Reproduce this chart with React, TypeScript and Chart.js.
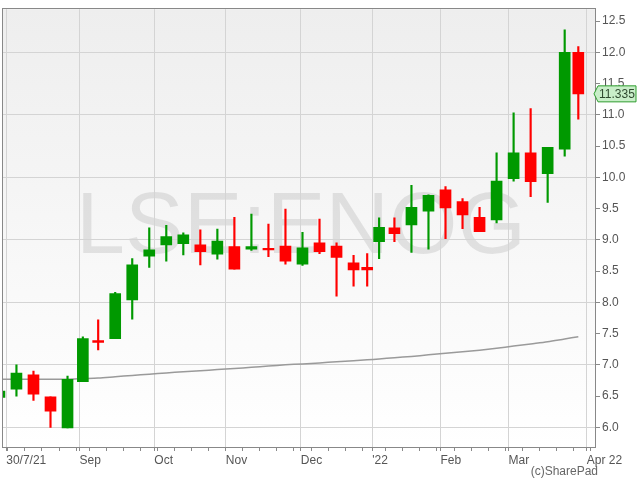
import React, { useEffect, useRef } from 'react';
import { Chart, registerables } from 'chart.js';

Chart.register(...registerables);

// ---- Data (weekly candles, x in trading-day index; 0 = 30 Jul 2021) ----
const weekStart = [-4, 1, 6, 11, 16, 21, 25, 30, 35, 40, 45, 50, 55, 60, 65, 70, 75, 80, 85, 90, 95, 100, 105, 108, 112, 117, 122, 127, 132, 137, 142, 147, 152, 157, 162, 167];
const lastTradingDay = 169;
const axisWeekStarts = [1, 6, 11, 16, 21, 25, 30, 35, 40, 45, 50, 55, 60, 65, 70, 75, 80, 85, 90, 95, 100, 105, 108, 112, 117, 122, 127, 132, 137, 142, 147, 152, 157, 162, 167, 172];

const openP = [6.48, 6.61, 6.84, 6.49, 5.99, 6.73, 7.39, 7.42, 8.04, 8.74, 8.92, 8.94, 8.92, 8.77, 8.89, 8.85, 8.86, 8.90, 8.61, 8.95, 8.90, 8.63, 8.56, 8.97, 9.19, 9.24, 9.46, 9.80, 9.61, 9.36, 9.32, 9.98, 10.39, 10.06, 10.45, 12.00];
const highP = [6.60, 7.00, 6.90, 6.49, 6.82, 7.45, 7.72, 8.16, 8.70, 9.19, 9.23, 9.11, 9.16, 9.17, 9.36, 9.41, 9.25, 9.49, 9.12, 9.33, 8.95, 8.75, 8.78, 9.35, 9.35, 9.87, 9.72, 9.85, 9.66, 9.52, 10.39, 11.03, 11.10, 10.48, 12.36, 12.09];
const lowP = [6.45, 6.50, 6.43, 6.00, 5.99, 6.73, 7.24, 7.42, 7.73, 8.56, 8.66, 8.76, 8.60, 8.69, 8.53, 8.83, 8.73, 8.61, 8.59, 8.78, 8.10, 8.26, 8.26, 8.70, 8.97, 8.80, 8.85, 9.02, 9.18, 9.13, 9.27, 9.94, 9.69, 9.60, 10.34, 10.93];
const closeP = [6.58, 6.87, 6.53, 6.26, 6.77, 7.42, 7.36, 8.14, 8.60, 8.84, 9.05, 9.08, 8.81, 8.98, 8.53, 8.89, 8.84, 8.66, 8.87, 8.81, 8.72, 8.52, 8.52, 9.20, 9.10, 9.52, 9.71, 9.51, 9.40, 9.13, 9.94, 10.39, 9.93, 10.48, 12.00, 11.335];
const movingAvg = [6.77, 6.77, 6.77, 6.77, 6.77, 6.78, 6.79, 6.81, 6.83, 6.85, 6.87, 6.89, 6.905, 6.925, 6.94, 6.96, 6.98, 7.00, 7.015, 7.03, 7.05, 7.065, 7.08, 7.095, 7.115, 7.135, 7.16, 7.185, 7.21, 7.235, 7.265, 7.30, 7.335, 7.37, 7.415, 7.45];

const monthStartIdx = [0, 22, 44, 65, 87, 108, 128, 148, 171];
const monthLabels = ['30/7/21', 'Sep', 'Oct', 'Nov', 'Dec', "'22", 'Feb', 'Mar', 'Apr 22'];
const yTickValues = [6.0, 6.5, 7.0, 7.5, 8.0, 8.5, 9.0, 9.5, 10.0, 10.5, 11.0, 11.5, 12.0, 12.5];
const lastPrice = 11.335;
const symbolText = 'LSE:ENOG';
const creditText = '(c)SharePad';

const UP = '#009900';
const DOWN = '#ff0000';
const FONT = '"Liberation Sans", Arial, sans-serif';

export default function App() {
  const ref = useRef<HTMLCanvasElement | null>(null);

  useEffect(() => {
    document.body.style.margin = '0';
    const canvas = ref.current;
    if (!canvas) return;

    const candleX = weekStart.map((s, i) => {
      const end = i + 1 < weekStart.length ? weekStart[i + 1] - 1 : lastTradingDay;
      return (s + end) / 2;
    });
    const colors = openP.map((o, i) => (closeP[i] >= o ? UP : DOWN));

    const monthTickVals = monthStartIdx.map((v, i) => (i === 0 ? v : v - 0.5));
    const labelMap = new Map<number, string>();
    monthTickVals.forEach((v, i) => labelMap.set(v, monthLabels[i]));
    const weekTickVals = axisWeekStarts.map((v) => v - 0.5).filter((v) => !labelMap.has(v));

    const decor = {
      id: 'decor',
      beforeDraw(chart: any) {
        const { ctx, chartArea: a } = chart;
        ctx.save();
        const g = ctx.createLinearGradient(0, a.top, 0, a.bottom);
        g.addColorStop(0, '#eeeeee');
        g.addColorStop(1, '#ffffff');
        ctx.fillStyle = g;
        ctx.fillRect(a.left, a.top, a.right - a.left, a.bottom - a.top);
        ctx.font = `88px ${FONT}`;
        ctx.fillStyle = 'rgba(0,0,0,0.09)';
        ctx.textAlign = 'center';
        ctx.textBaseline = 'alphabetic';
        ctx.fillText(symbolText, (a.left + a.right) / 2 + 2, (a.top + a.bottom) / 2 + 25);
        ctx.restore();
      },
      afterDraw(chart: any) {
        const { ctx, chartArea: a } = chart;
        ctx.save();
        ctx.strokeStyle = '#888888';
        ctx.lineWidth = 1;
        ctx.strokeRect(Math.round(a.left) - 0.5, Math.round(a.top) - 0.5, Math.round(a.right - a.left) + 1, Math.round(a.bottom - a.top) + 1);
        // last price tag
        const y = chart.scales.y.getPixelForValue(lastPrice);
        const x0 = a.right - 1;
        const h = 8;
        ctx.beginPath();
        ctx.moveTo(x0, y);
        ctx.lineTo(x0 + 4, y - h);
        ctx.lineTo(x0 + 42, y - h);
        ctx.lineTo(x0 + 42, y + h);
        ctx.lineTo(x0 + 4, y + h);
        ctx.closePath();
        ctx.fillStyle = '#c8eec8';
        ctx.fill();
        ctx.strokeStyle = '#2e9e2e';
        ctx.lineWidth = 1;
        ctx.stroke();
        ctx.font = `12px ${FONT}`;
        ctx.fillStyle = '#2f4a2f';
        ctx.textAlign = 'left';
        ctx.textBaseline = 'middle';
        ctx.fillText(lastPrice.toFixed(3), x0 + 5, y + 1);
        // credit
        ctx.fillStyle = '#666666';
        ctx.textAlign = 'right';
        ctx.textBaseline = 'alphabetic';
        ctx.fillText(creditText, 598, 475);
        ctx.restore();
      },
    };

    const chart = new Chart(canvas, {
      type: 'bar',
      data: {
        datasets: [
          {
            type: 'line',
            data: candleX.map((x, i) => ({ x, y: movingAvg[i] })),
            borderColor: '#9a9a9a',
            borderWidth: 1.5,
            pointRadius: 0,
            tension: 0.3,
            order: 3,
          } as any,
          {
            type: 'bar',
            data: candleX.map((x, i) => ({ x, y: [lowP[i], highP[i]] })),
            backgroundColor: colors,
            barThickness: 1.5,
            grouped: false,
            order: 2,
          } as any,
          {
            type: 'bar',
            data: candleX.map((x, i) => ({ x, y: [openP[i], closeP[i]] })),
            backgroundColor: colors,
            barThickness: 11,
            minBarLength: 1.5,
            grouped: false,
            order: 1,
          } as any,
        ],
      },
      options: {
        responsive: false,
        animation: false,
        layout: { padding: { left: 3, top: 3, right: 0, bottom: 0 } },
        plugins: { legend: { display: false }, tooltip: { enabled: false } },
        font: { family: FONT, size: 12 },
        scales: {
          x: {
            type: 'linear',
            min: -0.95,
            max: 172.9,
            offset: false,
            afterBuildTicks: (s: any) => {
              const vals = [...monthTickVals, ...weekTickVals].sort((p, q) => p - q);
              s.ticks = vals.map((v) => ({ value: v, major: labelMap.has(v) }));
            },
            afterFit: (s: any) => {
              s.height = 33;
            },
            grid: {
              offset: false,
              color: (c: any) => (c.tick && labelMap.has(c.tick.value) ? '#d4d4d4' : 'rgba(0,0,0,0)'),
              tickColor: '#8a8a8a',
              tickLength: 4,
              lineWidth: 1,
            },
            border: { display: false },
            ticks: {
              autoSkip: false,
              maxRotation: 0,
              align: 'start',
              padding: 2,
              color: '#555555',
              font: { family: FONT, size: 12 },
              callback: (v: any) => labelMap.get(Number(v)) ?? '',
            },
          },
          y: {
            type: 'linear',
            position: 'right',
            min: 5.686,
            max: 12.689,
            afterBuildTicks: (s: any) => {
              s.ticks = yTickValues.map((v) => ({ value: v }));
            },
            afterFit: (s: any) => {
              s.width = 45;
            },
            grid: {
              color: (c: any) => (c.tick && Number.isInteger(c.tick.value) ? '#d4d4d4' : 'rgba(0,0,0,0)'),
              tickColor: '#8a8a8a',
              tickLength: 5,
            },
            border: { display: false },
            ticks: {
              padding: 2,
              color: '#555555',
              font: { family: FONT, size: 12 },
              callback: (v: any) => Number(v).toFixed(1),
            },
          },
        },
      } as any,
      plugins: [decor],
    });

    return () => chart.destroy();
  }, []);

  return <canvas ref={ref} width={640} height={480} style={{ display: 'block', width: 640, height: 480 }} />;
}
